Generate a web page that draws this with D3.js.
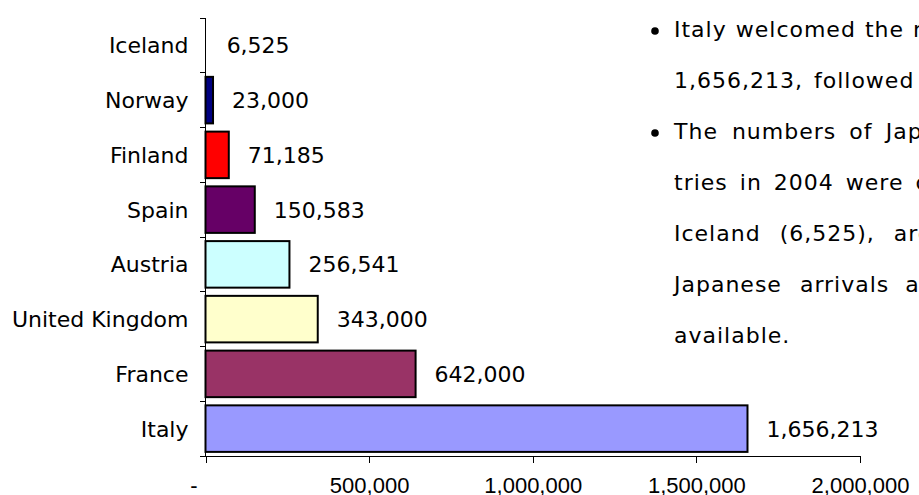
<!DOCTYPE html>
<html>
<head>
<meta charset="utf-8">
<script src="https://cdn.jsdelivr.net/npm/d3@7"></script>
<style>
  body { margin: 0; background: #fff; }
  svg { display: block; font-family: "DejaVu Sans", Verdana, sans-serif; }
  .axis path, .axis line { stroke: #000; shape-rendering: crispEdges; }
  .axis text { font-size: 22px; fill: #000; }
</style>
</head>
<body>
<div class="container"></div>
<script>
// japanese visitors 2004, top to bottom as in the chart
var countries = ["Iceland", "Norway", "Finland", "Spain", "Austria", "United Kingdom", "France", "Italy"];
var visitors = [6525, 23000, 71185, 150583, 256541, 343000, 642000, 1656213];
var barColors = ["none", "#000080", "#ff0000", "#660066", "#ccffff", "#ffffcc", "#993366", "#9999ff"];
var xTicks = [0, 500000, 1000000, 1500000, 2000000];

// note text on the right (justified in the original, so each line has its own word gap; it runs off the page)
var noteLines = [
  "Italy welcomed the most Japanese visitors with",
  "1,656,213, followed by France",
  "The numbers of Japanese visitors to other coun-",
  "tries in 2004 were counted for Norway",
  "Iceland (6,525), are the smallest",
  "Japanese arrivals are not",
  "available."
];
var noteGaps = [9, 11, 13, 12, 19, 16, 8];
var bulletLines = [0, 2];

var width = 919, height = 495;
var svg = d3.select(".container").append("svg").attr("width", width).attr("height", height);

var x = d3.scaleLinear().domain([0, 2000000]).range([205.5, 860]);
var y = d3.scaleBand().domain(countries).range([18, 456]).paddingInner(0.15).paddingOuter(0.075);

// bars
svg.selectAll("rect.bar")
  .data(visitors)
  .enter().append("rect")
  .attr("class", "bar")
  .attr("x", x(0))
  .attr("y", function(d, i) { return y(countries[i]); })
  .attr("width", function(d) { return x(d) - x(0); })
  .attr("height", y.bandwidth())
  .attr("fill", function(d, i) { return barColors[i]; })
  .attr("stroke", function(d, i) { return barColors[i] == "none" ? "none" : "#000"; })
  .attr("stroke-width", 2);

// value labels
svg.selectAll("text.val")
  .data(visitors)
  .enter().append("text")
  .attr("class", "val")
  .attr("x", function(d) { return x(d) + 19; })
  .attr("y", function(d, i) { return y(countries[i]) + y.bandwidth() / 2; })
  .attr("dy", "0.36em")
  .attr("font-size", 22)
  .text(function(d) { return d3.format(",")(d); });

// y axis: ticks sit between the categories
var yAxisG = svg.append("g").attr("class", "axis y");
yAxisG.append("line")
  .attr("x1", x(0)).attr("x2", x(0))
  .attr("y1", y.range()[0]).attr("y2", y.range()[1])
  .attr("stroke", "#444");
var bounds = d3.range(countries.length + 1).map(function(i) { return y.range()[0] + i * y.step(); });
yAxisG.selectAll("line.tk")
  .data(bounds)
  .enter().append("line")
  .attr("class", "tk")
  .attr("x1", x(0) - 6).attr("x2", x(0))
  .attr("y1", function(d) { return d; }).attr("y2", function(d) { return d; });
yAxisG.selectAll("text")
  .data(countries)
  .enter().append("text")
  .attr("x", x(0) - 17)
  .attr("y", function(d) { return y(d) + y.bandwidth() / 2; })
  .attr("dy", "0.36em")
  .attr("text-anchor", "end")
  .text(function(d) { return d; });

// x axis
var xAxis = d3.axisBottom(x)
  .tickValues(xTicks)
  .tickSize(7)
  .tickSizeOuter(0)
  .tickPadding(15)
  .tickFormat(function(d) { return d == 0 ? "-" : d3.format(",")(d); });
var xAxisG = svg.append("g")
  .attr("class", "axis x")
  .attr("transform", "translate(0," + 455.5 + ")")
  .call(xAxis);
xAxisG.select(".domain").attr("stroke", "#444");
xAxisG.selectAll(".tick text")
  .attr("font-family", null)
  .attr("font-size", null)
  .attr("dx", function(d) { return d == 0 ? -12 : 0; });

// note text, laid out word by word
var note = svg.append("g").attr("font-size", 22).attr("letter-spacing", 1).attr("fill", "#000");
noteLines.forEach(function(line, li) {
  var base = 37 + li * 51;
  var cx = 674;
  line.split(" ").forEach(function(w) {
    var t = note.append("text").attr("x", cx).attr("y", base).text(w);
    cx += t.node().getBBox().width + noteGaps[li];
  });
});
note.selectAll("circle")
  .data(bulletLines)
  .enter().append("circle")
  .attr("cx", 655)
  .attr("cy", function(d) { return 37 + d * 51 - 6; })
  .attr("r", 3.8)
  .attr("fill", "#000");
</script>
</body>
</html>
